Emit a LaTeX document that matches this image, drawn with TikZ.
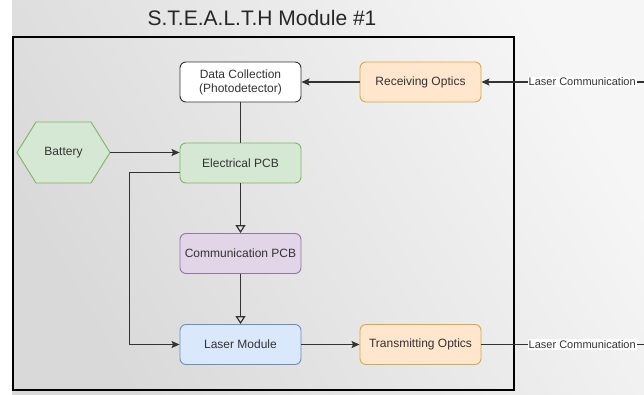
\documentclass[tikz,border=0pt]{standalone}
\usepackage{fontspec}
\setmainfont{Liberation Sans}
\usetikzlibrary{arrows.meta,calc}

\definecolor{bgdark}{HTML}{D9D9D9}
\definecolor{bglight}{HTML}{F6F6F6}
\definecolor{inkgray}{HTML}{333333}
\definecolor{orfill}{HTML}{FFE6CC}
\definecolor{ordraw}{HTML}{D6A94A}
\definecolor{grfill}{HTML}{D5E8D4}
\definecolor{grdraw}{HTML}{82B366}
\definecolor{pufill}{HTML}{E1D5E7}
\definecolor{pudraw}{HTML}{9673A6}
\definecolor{blfill}{HTML}{DAE8FC}
\definecolor{bldraw}{HTML}{6C8EBF}

\tikzset{
  blockbox/.style={draw, rounded corners=6pt, line width=0.9pt,
    minimum width=121pt, minimum height=40pt, align=center,
    text=inkgray, font=\fontsize{12}{14}\selectfont},
  whitebox/.style={blockbox, fill=white, draw=inkgray},
  orangebox/.style={blockbox, fill=orfill, draw=ordraw},
  greenbox/.style={blockbox, fill=grfill, draw=grdraw},
  purplebox/.style={blockbox, fill=pufill, draw=pudraw},
  bluebox/.style={blockbox, fill=blfill, draw=bldraw},
  hexshape/.style={fill=grfill, draw=grdraw, line width=0.9pt},
  wire/.style={draw=inkgray, line width=1.2pt},
  solidarrow/.style={wire, -{Stealth[length=8pt,width=7pt,inset=1.5pt]}},
  openarrow/.style={wire, -{Triangle[open,length=8pt,width=10pt]}},
  linklabel/.style={fill=white, inner sep=1pt, text=inkgray,
    font=\fontsize{11}{13}\selectfont},
}

\begin{document}
\begin{tikzpicture}[x=1pt, y=-1pt]
\useasboundingbox (0,0) rectangle (644,394);

% backdrop
\fill[white] (0,0) rectangle (644,394);
\shade[top color=bglight, bottom color=bgdark, shading angle=-60]
  (12,0) rectangle (644,394);

% module frame
\draw[black, line width=2.5pt] (13,37) rectangle (514,390);

% title
\node[font=\fontsize{21}{24}\selectfont, text=black!85] (title) at (262,18)
  {S.T.E.A.L.T.H Module \#1};

% blocks
\node[whitebox]  (dc)   at (240.5,82)    {Data Collection\\(Photodetector)};
\node[orangebox] (ro)   at (420.5,82)    {Receiving Optics};
\node[greenbox]  (epcb) at (240.5,163)   {Electrical PCB};
\node[purplebox] (cpcb) at (240.5,253.5) {Communication PCB};
\node[bluebox]   (lm)   at (240.5,344.5) {Laser Module};
\node[orangebox] (to)   at (420.5,344.5) {Transmitting Optics};

% battery hexagon
\coordinate (batc) at (63.5,152.5);
\draw[hexshape] ($(batc)+(-46.5,0)$) -- ++(19,-30.5) -- ++(55,0)
  -- ++(19,30.5) -- ++(-19,30.5) -- ++(-55,0) -- cycle;
\node[minimum width=93pt, minimum height=61pt, inner sep=0pt,
  text=inkgray, font=\fontsize{12}{14}\selectfont] (bat) at (batc) {Battery};

% free ends at the right border
\coordinate (rin)  at (644,82);
\coordinate (tout) at (644,344.5);

% connectors
\draw[solidarrow] (rin) -- node[linklabel, pos=0.38] {Laser Communication} (ro.east);
\draw[solidarrow] (ro) -- (dc);
\draw[wire] (dc) -- (epcb);
\draw[solidarrow] (bat.east) -- (bat.east -| epcb.west);
\draw[openarrow] (epcb) -- (cpcb);
\draw[openarrow] (cpcb) -- (lm);
\draw[solidarrow] ([yshift=-9.5pt]epcb.west) -- ++(-50,0) |- (lm.west);
\draw[solidarrow] (lm) -- (to);
\draw[wire] (to.east) -- node[linklabel, pos=0.62] {Laser Communication} (tout);
\end{tikzpicture}
\end{document}
